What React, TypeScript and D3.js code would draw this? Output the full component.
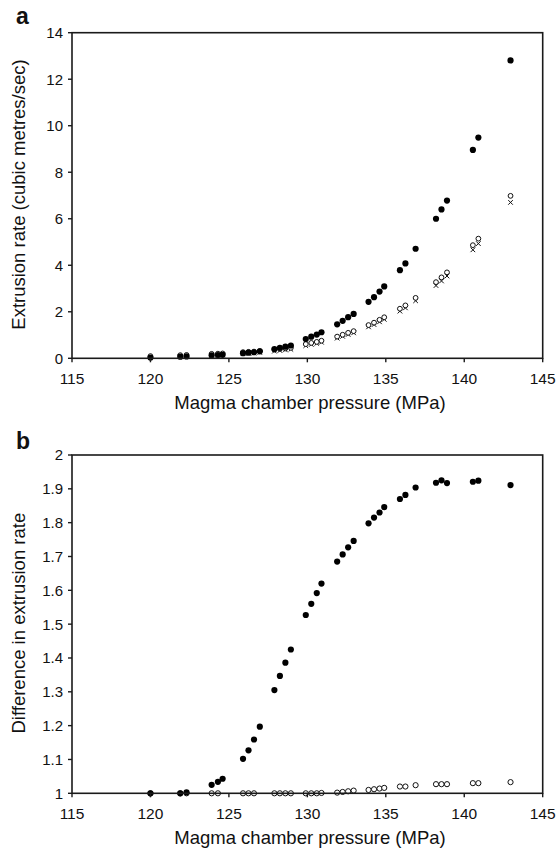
import React from "react";
import * as d3 from "d3";

// Magma chamber pressure (MPa)
const pressure = [
  120, 121.9, 122.3, 123.9, 124.3, 124.6, 125.9, 126.25, 126.6, 126.97,
  127.9, 128.25, 128.6, 128.95, 129.9, 130.25, 130.6, 130.9, 131.9, 132.25,
  132.6, 132.95, 133.9, 134.25, 134.6, 134.9, 135.9, 136.25, 136.9, 138.2,
  138.55, 138.9, 140.55, 140.9, 142.95,
];

// Panel a: extrusion rate (cubic metres/sec)
const rateFilled = [
  0.03, 0.07, 0.08, 0.13, 0.14, 0.15, 0.22, 0.24, 0.26, 0.3,
  0.4, 0.45, 0.5, 0.55, 0.83, 0.93, 1.02, 1.12, 1.46, 1.61,
  1.77, 1.91, 2.43, 2.63, 2.87, 3.09, 3.79, 4.08, 4.71, 6.0,
  6.4, 6.78, 8.96, 9.49, 12.81,
];
const rateOpen = [
  0.03, 0.07, 0.08, 0.127, 0.135, 0.144, 0.2, 0.213, 0.224, 0.25,
  0.307, 0.334, 0.36, 0.386, 0.545, 0.597, 0.641, 0.691, 0.868, 0.948,
  1.031, 1.103, 1.364, 1.467, 1.59, 1.7, 2.067, 2.21, 2.533, 3.21,
  3.415, 3.63, 4.8, 5.08, 6.92,
];
const rateCross = [
  0.03, 0.07, 0.08, 0.127, 0.135, 0.144, 0.2, 0.213, 0.224, 0.25,
  0.307, 0.334, 0.36, 0.386, 0.544, 0.596, 0.64, 0.69, 0.866, 0.944,
  1.025, 1.094, 1.35, 1.45, 1.568, 1.674, 2.027, 2.168, 2.474, 3.128,
  3.325, 3.537, 4.664, 4.932, 6.703,
];

// Panel b: difference in extrusion rate
const diffFilled = [
  1.0, 1.0, 1.003, 1.025, 1.034, 1.043, 1.102, 1.127, 1.159, 1.197,
  1.305, 1.347, 1.386, 1.425, 1.527, 1.56, 1.592, 1.62, 1.685, 1.706,
  1.727, 1.746, 1.798, 1.815, 1.83, 1.846, 1.87, 1.882, 1.904, 1.918,
  1.925, 1.917, 1.921, 1.924, 1.911,
];
const diffOpen: (number | null)[] = [
  1.0, 1.0, 1.0, 1.0, 1.0, null, 1.0, 1.0, 1.0, null,
  1.0, 1.0, 1.0, 1.0, 1.0, 1.0, 1.0, 1.001, 1.002, 1.004,
  1.006, 1.008, 1.01, 1.012, 1.014, 1.016, 1.02, 1.02, 1.024, 1.027,
  1.027, 1.027, 1.03, 1.03, 1.033,
];

const xTicks = [115, 120, 125, 130, 135, 140, 145];
const yTicksA = [0, 2, 4, 6, 8, 10, 12, 14];
const yTicksB = [1, 1.1, 1.2, 1.3, 1.4, 1.5, 1.6, 1.7, 1.8, 1.9, 2];

const FONT = "'Liberation Sans', Arial, Helvetica, sans-serif";
const AX = "#1a1a1a";

type PanelProps = {
  letter: string;
  letterY: number;
  top: number;
  bottom: number;
  yDomain: [number, number];
  yTicks: number[];
  yFmt: (v: number) => string;
  yTitle: string;
  children: (x: d3.ScaleLinear<number, number>, y: d3.ScaleLinear<number, number>) => React.ReactNode;
};

const LEFT = 72;
const RIGHT = 542.7;

function Panel({ letter, letterY, top, bottom, yDomain, yTicks, yFmt, yTitle, children }: PanelProps) {
  const x = d3.scaleLinear().domain([115, 145]).range([LEFT, RIGHT]);
  const y = d3.scaleLinear().domain(yDomain).range([bottom, top]);
  return (
    <g>
      <text x={16} y={letterY} fontFamily={FONT} fontWeight="bold" fontSize={23} fill="#111">
        {letter}
      </text>
      {children(x, y)}
      <rect x={LEFT} y={top} width={RIGHT - LEFT} height={bottom - top} fill="none" stroke={AX} strokeWidth={1.6} />
      {yTicks.map((t) => (
        <g key={"y" + t}>
          <line x1={LEFT - 4} x2={LEFT} y1={y(t)} y2={y(t)} stroke={AX} strokeWidth={1.4} />
          <text x={LEFT - 9} y={y(t)} dy="0.36em" textAnchor="end" fontFamily={FONT} fontSize={15} fill="#111">
            {yFmt(t)}
          </text>
        </g>
      ))}
      {xTicks.map((t) => (
        <g key={"x" + t}>
          <line x1={x(t)} x2={x(t)} y1={bottom} y2={bottom + 4} stroke={AX} strokeWidth={1.4} />
          <text x={x(t)} y={bottom + 26} textAnchor="middle" fontFamily={FONT} fontSize={15.5} fill="#111">
            {t}
          </text>
        </g>
      ))}
      <text
        x={310}
        y={bottom + 51}
        textAnchor="middle"
        fontFamily={FONT}
        fontSize={18.5}
        fill="#111"
      >
        Magma chamber pressure (MPa)
      </text>
      <text
        transform={`translate(25,${(top + bottom) / 2 - 1}) rotate(-90)`}
        textAnchor="middle"
        fontFamily={FONT}
        fontSize={18.5}
        fill="#111"
      >
        {yTitle}
      </text>
    </g>
  );
}

export default function App() {
  return (
    <svg
      width={559}
      height={851}
      viewBox="0 0 559 851"
      style={{ position: "absolute", left: 0, top: 0, background: "#fff" }}
    >
      <rect width={559} height={851} fill="#fff" />
      <Panel
        letter="a"
        letterY={24}
        top={32.7}
        bottom={358.3}
        yDomain={[0, 14]}
        yTicks={yTicksA}
        yFmt={(v) => String(v)}
        yTitle="Extrusion rate (cubic metres/sec)"
      >
        {(x, y) => (
          <g>
            {pressure.map((p, i) => {
              const cx = x(p);
              const cy = y(rateCross[i]);
              return (
                <g key={"c" + i} stroke="#111" strokeWidth={1}>
                  <line x1={cx - 2.3} x2={cx + 2.3} y1={cy - 2.3} y2={cy + 2.3} />
                  <line x1={cx - 2.3} x2={cx + 2.3} y1={cy + 2.3} y2={cy - 2.3} />
                </g>
              );
            })}
            {pressure.map((p, i) => (
              <circle key={"o" + i} cx={x(p)} cy={y(rateOpen[i]) - 1.5} r={2.4} fill="#fff" stroke="#111" strokeWidth={1} />
            ))}
            {pressure.map((p, i) => (
              <circle key={"f" + i} cx={x(p)} cy={y(rateFilled[i])} r={3.1} fill="#000" />
            ))}
          </g>
        )}
      </Panel>
      <Panel
        letter="b"
        letterY={449}
        top={455}
        bottom={793.3}
        yDomain={[1, 2]}
        yTicks={yTicksB}
        yFmt={(v) => d3.format("~g")(+v.toFixed(1))}
        yTitle="Difference in extrusion rate"
      >
        {(x, y) => (
          <g>
            {pressure.map((p, i) =>
              diffOpen[i] == null ? null : (
                <circle key={"o" + i} cx={x(p)} cy={y(diffOpen[i] as number)} r={2.6} fill="#fff" stroke="#111" strokeWidth={1} />
              )
            )}
            {pressure.map((p, i) => (
              <circle key={"f" + i} cx={x(p)} cy={y(diffFilled[i])} r={3.1} fill="#000" />
            ))}
          </g>
        )}
      </Panel>
    </svg>
  );
}
